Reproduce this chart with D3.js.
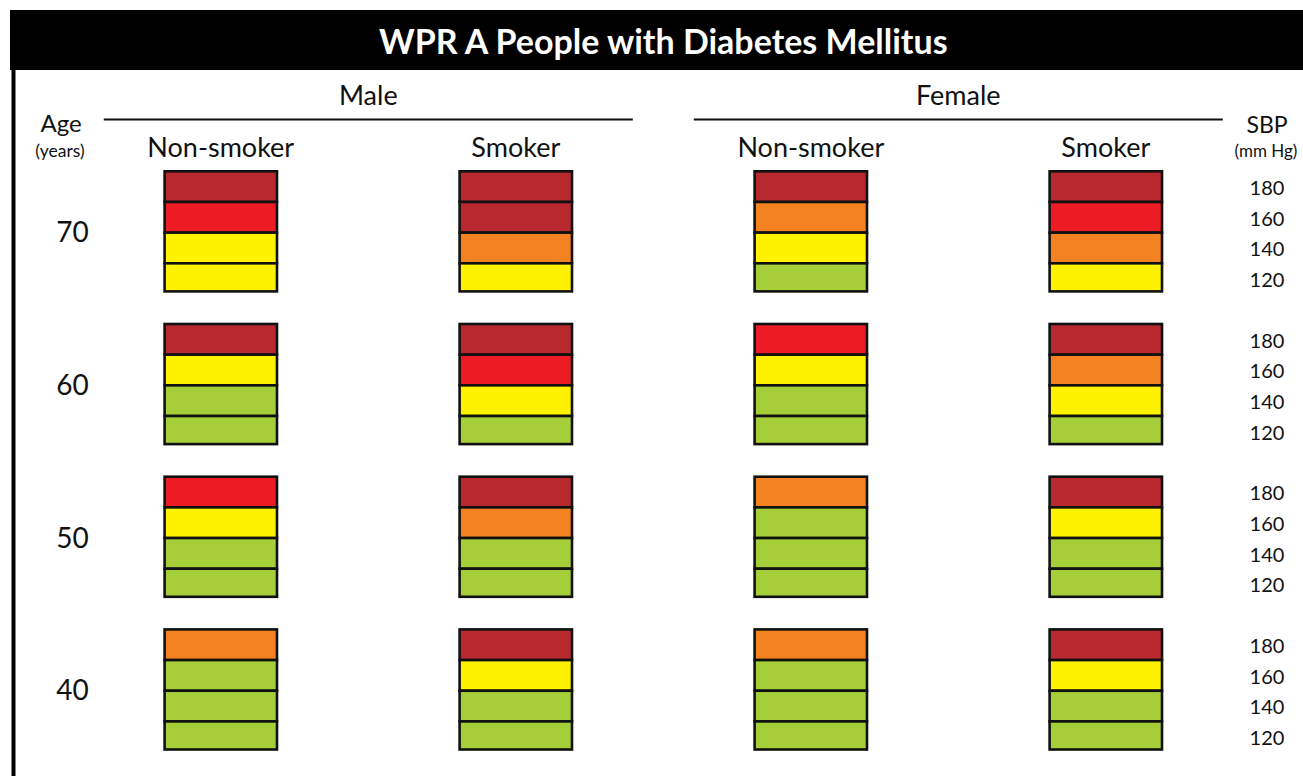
<!DOCTYPE html>
<html>
<head>
<meta charset="utf-8">
<script src="https://cdn.jsdelivr.net/npm/d3@7"></script>
<style>
  html, body { margin: 0; padding: 0; background: #fff; }
  svg { display: block; }
  text { font-family: Lato, "Open Sans", sans-serif; fill: #111; }
</style>
</head>
<body>
<svg id="chart" width="1303" height="776"></svg>
<script>
// Risk chart: WHO/ISH risk levels by sex, smoking, age and systolic blood pressure
const title = "WPR A People with Diabetes Mellitus";
const sexes = ["Male", "Female"];
const smoking = ["Non-smoker", "Smoker"];
const ages = [70, 60, 50, 40];
const sbpLevels = [180, 160, 140, 120];

// Risk level per cell (1 = lowest ... 5 = highest), listed top (180) to bottom (120)
const riskMaleNonSmoker   = { 70: [5, 4, 2, 2], 60: [5, 2, 1, 1], 50: [4, 2, 1, 1], 40: [3, 1, 1, 1] };
const riskMaleSmoker      = { 70: [5, 5, 3, 2], 60: [5, 4, 2, 1], 50: [5, 3, 1, 1], 40: [5, 2, 1, 1] };
const riskFemaleNonSmoker = { 70: [5, 3, 2, 1], 60: [4, 2, 1, 1], 50: [3, 1, 1, 1], 40: [3, 1, 1, 1] };
const riskFemaleSmoker    = { 70: [5, 4, 3, 2], 60: [5, 3, 2, 1], 50: [5, 2, 1, 1], 40: [5, 2, 1, 1] };

const riskLevels = [1, 2, 3, 4, 5];
const riskColors = ["#a6ce39", "#fff200", "#f58220", "#ed1c24", "#b8292f"];

const panels = [
  { sex: "Male",   smoke: "Non-smoker", risk: riskMaleNonSmoker },
  { sex: "Male",   smoke: "Smoker",     risk: riskMaleSmoker },
  { sex: "Female", smoke: "Non-smoker", risk: riskFemaleNonSmoker },
  { sex: "Female", smoke: "Smoker",     risk: riskFemaleSmoker }
];

const svg = d3.select("#chart");
const W = 1303, H = 776;

const color = d3.scaleOrdinal().domain(riskLevels).range(riskColors);

const colKey = d => d.sex + "|" + d.smoke;
const x = d3.scaleBand()
  .domain(panels.map(colKey))
  .range([163.3, 1163.3])
  .paddingInner(0.6102)
  .paddingOuter(0);

const y = d3.scaleBand()
  .domain(ages)
  .range([170, 750.8])
  .paddingInner(0.1965)
  .paddingOuter(0);

const yCell = d3.scaleBand()
  .domain(sbpLevels)
  .range([0, y.bandwidth()]);

// frame: title bar and left rule
svg.append("rect").attr("x", 10).attr("y", 10).attr("width", W - 10).attr("height", 60).attr("fill", "#000");
svg.append("rect").attr("x", 11.5).attr("y", 69).attr("width", 4).attr("height", H - 69).attr("fill", "#000");

const sexCenter = s => {
  const cols = panels.filter(p => p.sex === s).map(p => x(colKey(p)) + x.bandwidth() / 2);
  return d3.mean(cols);
};
const titleX = (sexCenter("Male") + sexCenter("Female")) / 2;

svg.append("text")
  .attr("x", titleX).attr("y", 54)
  .attr("text-anchor", "middle")
  .style("font-size", "34px").style("font-weight", "bold").style("fill", "#fff")
  .text(title);

// sex headers with rules
sexes.forEach(s => {
  const cx = sexCenter(s);
  svg.append("text").attr("x", cx).attr("y", 105).attr("text-anchor", "middle")
    .style("font-size", "27px").text(s);
  svg.append("line").attr("x1", cx - 264.5).attr("x2", cx + 264.5)
    .attr("y1", 119.5).attr("y2", 119.5).attr("stroke", "#111").attr("stroke-width", 2);
});

// smoking headers
svg.selectAll("text.smoke").data(panels).join("text")
  .attr("class", "smoke")
  .attr("x", d => x(colKey(d)) + x.bandwidth() / 2).attr("y", 157)
  .attr("text-anchor", "middle").style("font-size", "27px")
  .text(d => d.smoke);

// axis captions
svg.append("text").attr("x", 61).attr("y", 132).attr("text-anchor", "middle").style("font-size", "24px").text("Age");
svg.append("text").attr("x", 60).attr("y", 157).attr("text-anchor", "middle").style("font-size", "17.5px").text("(years)");
svg.append("text").attr("x", 1267).attr("y", 133).attr("text-anchor", "middle").style("font-size", "23px").text("SBP");
svg.append("text").attr("x", 1266).attr("y", 157).attr("text-anchor", "middle").style("font-size", "17px").text("(mm Hg)");

// age labels
svg.selectAll("text.age").data(ages).join("text")
  .attr("class", "age")
  .attr("x", 72.5).attr("y", d => y(d) + y.bandwidth() / 2 + 11)
  .attr("text-anchor", "middle").style("font-size", "28px")
  .text(d => d);

// SBP labels per age row
const sbpRows = svg.selectAll("g.sbp").data(ages).join("g")
  .attr("class", "sbp")
  .attr("transform", d => `translate(1267,${y(d)})`);
sbpRows.selectAll("text").data(sbpLevels).join("text")
  .attr("x", 0).attr("y", d => yCell(d) + yCell.bandwidth() / 2 + 9.5)
  .attr("text-anchor", "middle").style("font-size", "20px")
  .text(d => d);

// risk cells
const sw = 2.6;
panels.forEach(p => {
  ages.forEach(a => {
    const g = svg.append("g").attr("transform", `translate(${x(colKey(p))},${y(a)})`);
    g.selectAll("rect").data(sbpLevels.map((s, i) => ({ sbp: s, risk: p.risk[a][i] }))).join("rect")
      .attr("x", sw / 2)
      .attr("y", d => yCell(d.sbp) + sw / 2)
      .attr("width", x.bandwidth() - sw)
      .attr("height", d => yCell.bandwidth() - (d.sbp === 120 ? sw : 0))
      .attr("fill", d => color(d.risk))
      .attr("stroke", "#111")
      .attr("stroke-width", sw);
  });
});
</script>
</body>
</html>
